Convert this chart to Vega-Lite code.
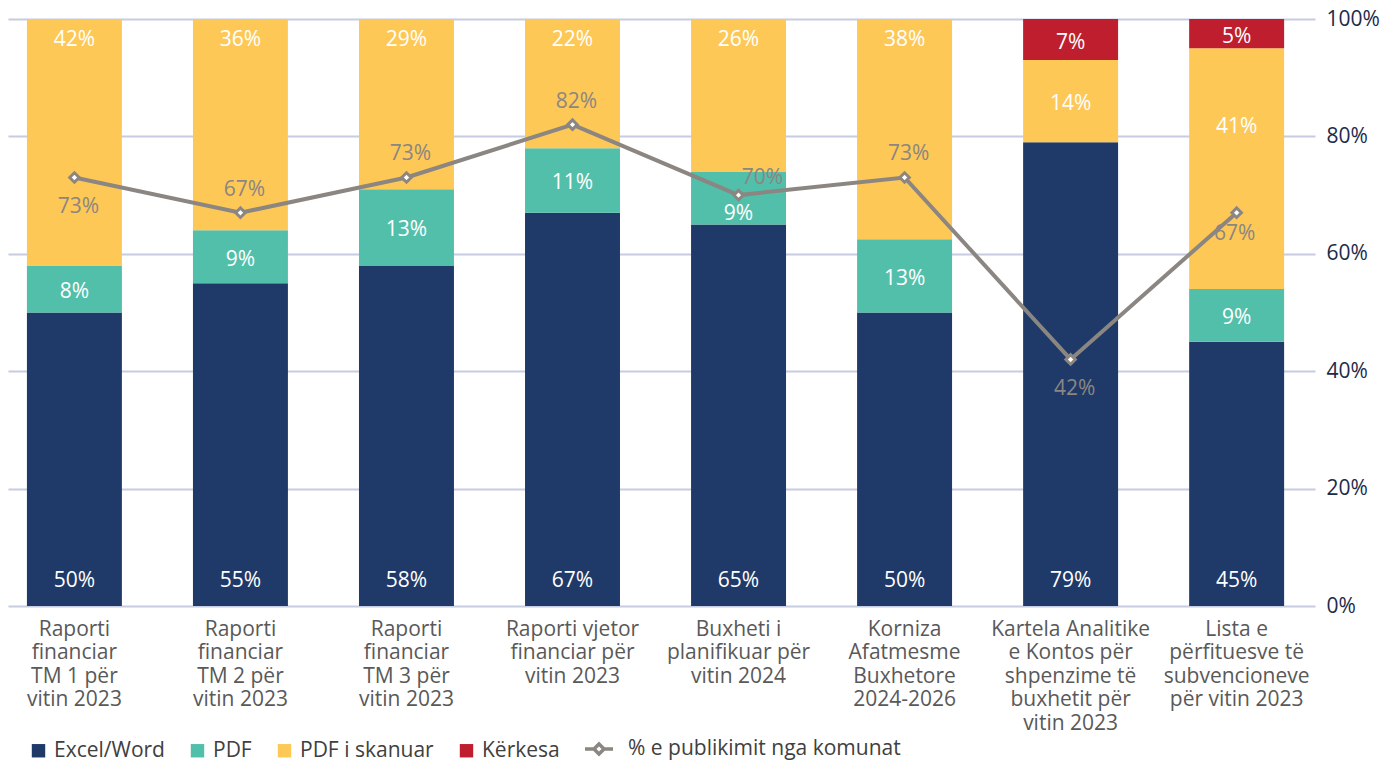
{
  "$schema": "https://vega.github.io/schema/vega-lite/v6.json",
  "width": 1390,
  "height": 765,
  "autosize": {"type": "fit", "contains": "padding"},
  "padding": {"left": 8, "right": 10, "top": 8, "bottom": 32},
  "background": "white",
  "config": {
    "font": "Open Sans",
    "view": {"stroke": null},
    "text": {"font": "Open Sans"}
  },
  "datasets": {
    "bars": [
      {"cat": "Raporti|financiar|TM 1 për|vitin 2023", "type": "Excel/Word", "o": 1, "value": 0.50},
      {"cat": "Raporti|financiar|TM 1 për|vitin 2023", "type": "PDF", "o": 2, "value": 0.08},
      {"cat": "Raporti|financiar|TM 1 për|vitin 2023", "type": "PDF i skanuar", "o": 3, "value": 0.42},
      {"cat": "Raporti|financiar|TM 2 për|vitin 2023", "type": "Excel/Word", "o": 1, "value": 0.55},
      {"cat": "Raporti|financiar|TM 2 për|vitin 2023", "type": "PDF", "o": 2, "value": 0.09},
      {"cat": "Raporti|financiar|TM 2 për|vitin 2023", "type": "PDF i skanuar", "o": 3, "value": 0.36},
      {"cat": "Raporti|financiar|TM 3 për|vitin 2023", "type": "Excel/Word", "o": 1, "value": 0.58},
      {"cat": "Raporti|financiar|TM 3 për|vitin 2023", "type": "PDF", "o": 2, "value": 0.13},
      {"cat": "Raporti|financiar|TM 3 për|vitin 2023", "type": "PDF i skanuar", "o": 3, "value": 0.29},
      {"cat": "Raporti vjetor|financiar për|vitin 2023", "type": "Excel/Word", "o": 1, "value": 0.67},
      {"cat": "Raporti vjetor|financiar për|vitin 2023", "type": "PDF", "o": 2, "value": 0.11},
      {"cat": "Raporti vjetor|financiar për|vitin 2023", "type": "PDF i skanuar", "o": 3, "value": 0.22},
      {"cat": "Buxheti i|planifikuar për|vitin 2024", "type": "Excel/Word", "o": 1, "value": 0.65},
      {"cat": "Buxheti i|planifikuar për|vitin 2024", "type": "PDF", "o": 2, "value": 0.09},
      {"cat": "Buxheti i|planifikuar për|vitin 2024", "type": "PDF i skanuar", "o": 3, "value": 0.26},
      {"cat": "Korniza|Afatmesme|Buxhetore|2024-2026", "type": "Excel/Word", "o": 1, "value": 0.50},
      {"cat": "Korniza|Afatmesme|Buxhetore|2024-2026", "type": "PDF", "o": 2, "value": 0.125},
      {"cat": "Korniza|Afatmesme|Buxhetore|2024-2026", "type": "PDF i skanuar", "o": 3, "value": 0.375},
      {"cat": "Kartela Analitike|e Kontos për|shpenzime të|buxhetit për|vitin 2023", "type": "Excel/Word", "o": 1, "value": 0.79},
      {"cat": "Kartela Analitike|e Kontos për|shpenzime të|buxhetit për|vitin 2023", "type": "PDF i skanuar", "o": 3, "value": 0.14},
      {"cat": "Kartela Analitike|e Kontos për|shpenzime të|buxhetit për|vitin 2023", "type": "Kërkesa", "o": 4, "value": 0.07},
      {"cat": "Lista e|përfituesve të|subvencioneve|për vitin 2023", "type": "Excel/Word", "o": 1, "value": 0.45},
      {"cat": "Lista e|përfituesve të|subvencioneve|për vitin 2023", "type": "PDF", "o": 2, "value": 0.09},
      {"cat": "Lista e|përfituesve të|subvencioneve|për vitin 2023", "type": "PDF i skanuar", "o": 3, "value": 0.41},
      {"cat": "Lista e|përfituesve të|subvencioneve|për vitin 2023", "type": "Kërkesa", "o": 4, "value": 0.05}
    ],
    "line": [
      {"cat": "Raporti|financiar|TM 1 për|vitin 2023", "pub": 0.73},
      {"cat": "Raporti|financiar|TM 2 për|vitin 2023", "pub": 0.67},
      {"cat": "Raporti|financiar|TM 3 për|vitin 2023", "pub": 0.73},
      {"cat": "Raporti vjetor|financiar për|vitin 2023", "pub": 0.82},
      {"cat": "Buxheti i|planifikuar për|vitin 2024", "pub": 0.70},
      {"cat": "Korniza|Afatmesme|Buxhetore|2024-2026", "pub": 0.73},
      {"cat": "Kartela Analitike|e Kontos për|shpenzime të|buxhetit për|vitin 2023", "pub": 0.42},
      {"cat": "Lista e|përfituesve të|subvencioneve|për vitin 2023", "pub": 0.67}
    ]
  },
  "encoding": {
    "x": {
      "field": "cat",
      "type": "nominal",
      "sort": [
        "Raporti|financiar|TM 1 për|vitin 2023",
        "Raporti|financiar|TM 2 për|vitin 2023",
        "Raporti|financiar|TM 3 për|vitin 2023",
        "Raporti vjetor|financiar për|vitin 2023",
        "Buxheti i|planifikuar për|vitin 2024",
        "Korniza|Afatmesme|Buxhetore|2024-2026",
        "Kartela Analitike|e Kontos për|shpenzime të|buxhetit për|vitin 2023",
        "Lista e|përfituesve të|subvencioneve|për vitin 2023"
      ],
      "scale": {"paddingInner": 0.428, "paddingOuter": 0.15, "align": 0.38},
      "axis": {
        "title": null,
        "labelAngle": 0,
        "labelExpr": "split(datum.label, '|')",
        "labelFontSize": 21,
        "labelColor": "#595959",
        "labelLineHeight": 23.5,
        "labelPadding": 12,
        "labelLimit": 300,
        "domain": false,
        "ticks": false,
        "grid": false
      }
    }
  },
  "layer": [
    {
      "data": {"name": "bars"},
      "transform": [
        {"stack": "value", "groupby": ["cat"], "sort": [{"field": "o", "order": "ascending"}], "as": ["y0", "y1"]},
        {"calculate": "(datum.y0 + datum.y1) / 2", "as": "ymid"}
      ],
      "layer": [
        {
          "mark": {"type": "bar"},
          "encoding": {
            "y": {
              "field": "y0",
              "type": "quantitative",
              "scale": {"domain": [0, 1], "nice": false},
              "axis": {
                "orient": "right",
                "title": null,
                "values": [0, 0.2, 0.4, 0.6, 0.8, 1],
                "format": ".0%",
                "labelFontSize": 21,
                "labelColor": "#1d2a4a",
                "labelPadding": 11,
                "domain": false,
                "ticks": false,
                "grid": true,
                "gridColor": "#c6cce2",
                "gridWidth": 2
              }
            },
            "y2": {"field": "y1"},
            "color": {
              "field": "type",
              "type": "nominal",
              "scale": {
                "domain": ["Excel/Word", "PDF", "PDF i skanuar", "Kërkesa"],
                "range": ["#1f3a69", "#52bfab", "#fec857", "#be1e2e"]
              },
              "legend": {
                "title": null,
                "orient": "none",
                "legendX": 20,
                "legendY": 721,
                "direction": "horizontal",
                "symbolType": "square",
                "symbolSize": 180,
                "symbolStrokeWidth": 0,
                "labelFontSize": 21,
                "labelColor": "#404040",
                "labelOffset": 5,
                "labelLimit": 300,
                "columnPadding": 22
              }
            }
          }
        },
        {
          "transform": [{"filter": "datum.type === 'Excel/Word'"}],
          "mark": {"type": "text", "color": "white", "fontSize": 21, "baseline": "middle", "dy": -25},
          "encoding": {
            "y": {"field": "y0", "type": "quantitative", "title": null},
            "text": {"field": "value", "type": "quantitative", "format": ".0%"}
          }
        },
        {
          "transform": [{"filter": "datum.type === 'PDF i skanuar' && indexof(datum.cat, 'Kartela') < 0 && indexof(datum.cat, 'Lista') < 0"}],
          "mark": {"type": "text", "color": "white", "fontSize": 21, "baseline": "middle", "dy": 21},
          "encoding": {
            "y": {"field": "y1", "type": "quantitative", "title": null},
            "text": {"field": "value", "type": "quantitative", "format": ".0%"}
          }
        },
        {
          "transform": [{"filter": "(datum.type === 'PDF' && indexof(datum.cat, 'Buxheti') < 0) || datum.type === 'Kërkesa' || (datum.type === 'PDF i skanuar' && indexof(datum.cat, 'Kartela') >= 0)"}],
          "mark": {"type": "text", "color": "white", "fontSize": 21, "baseline": "middle", "dy": 3},
          "encoding": {
            "y": {"field": "ymid", "type": "quantitative", "title": null},
            "text": {"field": "value", "type": "quantitative", "format": ".0%"}
          }
        },
        {
          "transform": [{"filter": "datum.type === 'PDF' && indexof(datum.cat, 'Buxheti') >= 0"}],
          "mark": {"type": "text", "color": "white", "fontSize": 21, "baseline": "middle", "dy": 16},
          "encoding": {
            "y": {"field": "ymid", "type": "quantitative", "title": null},
            "text": {"field": "value", "type": "quantitative", "format": ".0%"}
          }
        },
        {
          "transform": [{"filter": "datum.type === 'PDF i skanuar' && indexof(datum.cat, 'Lista') >= 0"}],
          "mark": {"type": "text", "color": "white", "fontSize": 21, "baseline": "middle", "dy": 79},
          "encoding": {
            "y": {"field": "y1", "type": "quantitative", "title": null},
            "text": {"field": "value", "type": "quantitative", "format": ".0%"}
          }
        }
      ]
    },
    {
      "data": {"name": "line"},
      "layer": [
        {
          "mark": {"type": "line", "strokeWidth": 4},
          "encoding": {
            "y": {"field": "pub", "type": "quantitative", "title": null},
            "stroke": {
              "datum": "% e publikimit nga komunat",
              "type": "nominal",
              "scale": {"range": ["#8b8681"]},
              "legend": {
                "title": null,
                "orient": "none",
                "legendX": 575,
                "legendY": 714,
                "symbolType": "M-1,0L-0.36,0M0.36,0L1,0M0,-0.36L0.36,0L0,0.36L-0.36,0Z",
                "symbolSize": 784,
                "symbolStrokeWidth": 3.5,
                "symbolFillColor": "white",
                "labelFontSize": 21,
                "labelColor": "#404040",
                "labelOffset": 13,
                "labelLimit": 400
              }
            }
          }
        },
        {
          "mark": {"type": "point", "shape": "diamond", "filled": true, "fill": "white", "stroke": "#8b8681", "strokeWidth": 3, "size": 90, "opacity": 1},
          "encoding": {
            "y": {"field": "pub", "type": "quantitative", "title": null}
          }
        },
        {
          "transform": [{"filter": "indexof(datum.cat, 'TM 2') >= 0 || indexof(datum.cat, 'TM 3') >= 0 || indexof(datum.cat, 'vjetor') >= 0 || indexof(datum.cat, 'Korniza') >= 0"}],
          "mark": {"type": "text", "color": "#8b8681", "fontSize": 21, "baseline": "middle", "dy": -23, "dx": 4},
          "encoding": {
            "y": {"field": "pub", "type": "quantitative", "title": null},
            "text": {"field": "pub", "type": "quantitative", "format": ".0%"}
          }
        },
        {
          "transform": [{"filter": "indexof(datum.cat, 'TM 1') >= 0 || indexof(datum.cat, 'Kartela') >= 0"}],
          "mark": {"type": "text", "color": "#8b8681", "fontSize": 21, "baseline": "middle", "dy": 30, "dx": 4},
          "encoding": {
            "y": {"field": "pub", "type": "quantitative", "title": null},
            "text": {"field": "pub", "type": "quantitative", "format": ".0%"}
          }
        },
        {
          "transform": [{"filter": "indexof(datum.cat, 'Buxheti') >= 0"}],
          "mark": {"type": "text", "color": "#8b8681", "fontSize": 21, "baseline": "middle", "dy": -17, "dx": 24},
          "encoding": {
            "y": {"field": "pub", "type": "quantitative", "title": null},
            "text": {"field": "pub", "type": "quantitative", "format": ".0%"}
          }
        },
        {
          "transform": [{"filter": "indexof(datum.cat, 'Lista') >= 0"}],
          "mark": {"type": "text", "color": "#8b8681", "fontSize": 21, "baseline": "middle", "dy": 21, "dx": -2},
          "encoding": {
            "y": {"field": "pub", "type": "quantitative", "title": null},
            "text": {"field": "pub", "type": "quantitative", "format": ".0%"}
          }
        }
      ]
    }
  ]
}
